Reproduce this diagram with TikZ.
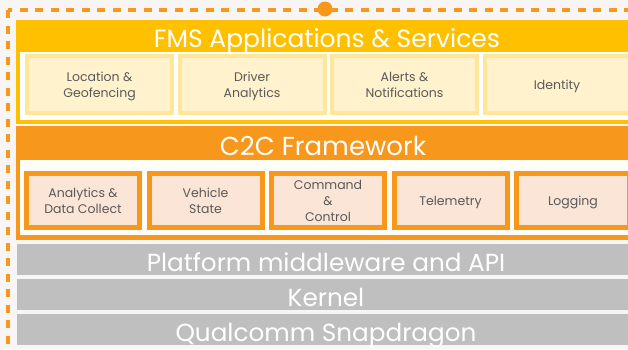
\documentclass[tikz,border=0pt]{standalone}
\usepackage{fontspec}
\setmainfont{Poppins}
\usetikzlibrary{positioning}

\definecolor{pagebg}{HTML}{F7F6F4}
\definecolor{fmsyellow}{HTML}{FFC000}
\definecolor{fmsline}{HTML}{FFE699}
\definecolor{fmsfill}{HTML}{FFF2CC}
\definecolor{ctwoc}{HTML}{F7981D}
\definecolor{ctwocfill}{HTML}{FBE5D6}
\definecolor{ctwocinner}{HTML}{FFFDF7}
\definecolor{basegray}{HTML}{BFBFBF}
\definecolor{celltext}{HTML}{595959}

\begin{document}
\begin{tikzpicture}[x=1pt, y=-1pt,
    % Styles
    boxframe/.style={inner sep=0pt, outer sep=0pt, anchor=north west, minimum width=618pt},
    bandtitle/.style={font=\fontsize{26}{30}\selectfont, text=white, inner sep=0pt, anchor=base},
    fmscell/.style={draw=fmsline, fill=fmsfill, line width=4pt, minimum width=145pt, minimum height=57pt,
                    font=\fontsize{12.5}{16}\selectfont, text=celltext, align=center, inner sep=0pt, text depth=-8pt},
    ctwoccell/.style={draw=ctwoc, fill=ctwocfill, line width=5pt, minimum width=113pt, minimum height=54pt,
                    font=\fontsize{12.5}{16}\selectfont, text=celltext, align=center, inner sep=0pt, text depth=-8pt},
    baseband/.style={boxframe, fill=basegray, minimum height=31pt, text height=24pt, text depth=1pt,
                    font=\fontsize{24.7}{29}\selectfont, text=white},
    frameline/.style={draw=ctwoc, line width=3.5pt, dash pattern=on 8pt off 7.5pt},
    anchordot/.style={circle, fill=ctwoc, minimum size=15pt, inner sep=0pt}
]
    % Page and crop
    \useasboundingbox (0,0) rectangle (628,349);
    \fill[pagebg] (0,0) rectangle (628,349);
    \clip (0,0) rectangle (628,349);

    % Outer dashed frame
    \draw[frameline] (8,10) rectangle (642,370);
    \node[anchordot] (topdot) at (325,9) {};

    % FMS Applications & Services
    \node[boxframe, fill=fmsyellow, minimum height=104pt] (fms) at (16,20) {};
    \node[boxframe, fill=white, minimum width=610pt, minimum height=68pt] (fmsinner) at (20,52) {};
    \node[bandtitle, font=\fontsize{25}{30}\selectfont] (fmstitle) at (327,47) {FMS Applications \& Services};

    \node[fmscell, anchor=north west] (location) at (25,54) {Location \&\\Geofencing};
    \node[fmscell, right=3.5pt of location] (driver) {Driver\\Analytics};
    \node[fmscell, right=3.5pt of driver] (alerts) {Alerts \&\\Notifications};
    \node[fmscell, right=3.5pt of alerts] (identity) {Identity};

    % C2C Framework
    \node[boxframe, fill=ctwoc, minimum height=114pt] (ctwoc) at (16,126) {};
    \node[boxframe, fill=ctwocinner, minimum width=610pt, minimum height=75pt] (ctwocinner) at (20,160) {};
    \node[bandtitle] (ctwoctitle) at (323,155) {C2C Framework};

    \node[ctwoccell, anchor=north west] (analytics) at (24,171) {Analytics \&\\Data Collect};
    \node[ctwoccell, right=4.5pt of analytics] (vehicle) {Vehicle\\State};
    \node[ctwoccell, right=4.5pt of vehicle] (command) {Command\\\&\\Control};
    \node[ctwoccell, right=4.5pt of command] (telemetry) {Telemetry};
    \node[ctwoccell, right=4.5pt of telemetry] (logging) {Logging};

    % Platform layers
    \node[baseband] (middleware) at (17,244) {Platform middleware and API};
    \node[baseband, below=4pt of middleware] (kernel) {Kernel};
    \node[baseband, below=4pt of kernel] (snapdragon) {Qualcomm Snapdragon};
\end{tikzpicture}
\end{document}
